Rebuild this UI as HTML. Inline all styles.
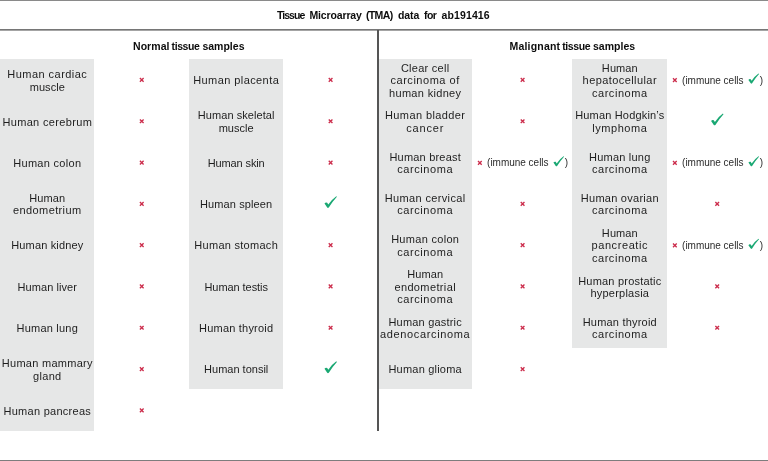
<!DOCTYPE html>
<html><head><meta charset="utf-8"><title>Tissue Microarray (TMA) data for ab191416</title>
<style>
html,body{margin:0;padding:0;background:#fff;}
body{width:768px;height:461px;position:relative;overflow:hidden;font-family:"Liberation Sans",sans-serif;color:#1e1e1e;}
.hl{position:absolute;left:0;width:768px;height:2px;background:#7d7d7d;}
.vl{position:absolute;left:377px;top:30px;width:2px;height:401px;background:#555;}
.b{position:absolute;display:flex;font-weight:bold;font-size:10.5px;line-height:14px;color:#0c0c0c;white-space:nowrap;}
.b span{flex:none;display:block;}
.g{position:absolute;background:#e6e7e7;}
.c,.b,.im{filter:grayscale(1);}
.c{position:absolute;display:flex;align-items:center;justify-content:center;text-align:center;font-size:11.0px;line-height:12.5px;white-space:nowrap;width:120px;margin-left:-60px;}
.ov{position:absolute;left:0;top:0;width:768px;height:461px;}
.x{stroke:#cc2d4c;stroke-width:1.35;fill:none;stroke-linecap:butt;}
.ck{fill:#1aa873;}
.im{position:absolute;font-size:10px;line-height:12px;white-space:nowrap;color:#2c2c2c;}
</style></head><body>
<div class="hl" style="top:0;height:1px;background:#8a8a8a"></div>
<div class="hl" style="top:29px;height:1px;background:#767676"></div>
<div class="hl" style="top:30px;height:1px;background:#a4a4a4"></div>
<div class="hl" style="top:459.5px"></div>

<div class="b" style="left:276.9px;top:8.3px"><span style="width:32.5px;letter-spacing:-0.93px">Tissue</span> <span style="width:56.6px;letter-spacing:-0.13px">Microarray</span> <span style="width:31.9px;letter-spacing:-0.64px">(TMA)</span> <span style="width:26.2px;letter-spacing:-0.03px">data</span> <span style="width:17.5px;letter-spacing:-0.6px">for</span> <span style="width:51.5px;letter-spacing:0.11px">ab191416</span></div>
<div class="b" style="left:133.0px;top:38.9px"><span style="width:38.6px;letter-spacing:0.06px">Normal</span> <span style="width:30.8px;letter-spacing:-0.41px">tissue</span> <span style="width:45.5px;letter-spacing:0.01px">samples</span></div>
<div class="b" style="left:509.5px;top:38.9px"><span style="width:52.7px;letter-spacing:0.2px">Malignant</span> <span style="width:30.8px;letter-spacing:-0.41px">tissue</span> <span style="width:45.5px;letter-spacing:0.01px">samples</span></div>
<div class="g" style="left:0px;top:59px;width:94.2px;height:371.7px"></div>
<div class="c" style="left:47.3px;top:59.9px;height:41.3px"><div><span style="letter-spacing:0.47px">Human cardiac</span> <br><span style="letter-spacing:0.03px">muscle</span></div></div>
<div class="c" style="left:47.3px;top:101.2px;height:41.3px"><div><span style="letter-spacing:0.34px">Human cerebrum</span></div></div>
<div class="c" style="left:47.3px;top:142.5px;height:41.3px"><div><span style="letter-spacing:0.3px">Human colon</span></div></div>
<div class="c" style="left:47.3px;top:183.8px;height:41.3px"><div><span style="letter-spacing:0.08px">Human</span> <br><span style="letter-spacing:0.38px">endometrium</span></div></div>
<div class="c" style="left:47.3px;top:225.1px;height:41.3px"><div><span style="letter-spacing:0.16px">Human kidney</span></div></div>
<div class="c" style="left:47.3px;top:266.4px;height:41.3px"><div><span style="letter-spacing:0.06px">Human liver</span></div></div>
<div class="c" style="left:47.3px;top:307.7px;height:41.3px"><div><span style="letter-spacing:0.21px">Human lung</span></div></div>
<div class="c" style="left:47.3px;top:349.0px;height:41.3px"><div><span style="letter-spacing:0.27px">Human mammary</span> <br><span style="letter-spacing:0.32px">gland</span></div></div>
<div class="c" style="left:47.3px;top:390.3px;height:41.3px"><div><span style="letter-spacing:0.27px">Human pancreas</span></div></div>
<div class="g" style="left:189px;top:59px;width:94.19999999999999px;height:330.4px"></div>
<div class="c" style="left:236.2px;top:59.9px;height:41.3px"><div><span style="letter-spacing:0.42px">Human placenta</span></div></div>
<div class="c" style="left:236.2px;top:101.2px;height:41.3px"><div><span style="letter-spacing:0.06px">Human skeletal</span> <br><span style="letter-spacing:0.03px">muscle</span></div></div>
<div class="c" style="left:236.2px;top:142.5px;height:41.3px"><div><span style="letter-spacing:-0.12px">Human skin</span></div></div>
<div class="c" style="left:236.2px;top:183.8px;height:41.3px"><div><span style="letter-spacing:0.11px">Human spleen</span></div></div>
<div class="c" style="left:236.2px;top:225.1px;height:41.3px"><div><span style="letter-spacing:0.28px">Human stomach</span></div></div>
<div class="c" style="left:236.2px;top:266.4px;height:41.3px"><div><span style="letter-spacing:-0.06px">Human testis</span></div></div>
<div class="c" style="left:236.2px;top:307.7px;height:41.3px"><div><span style="letter-spacing:0.2px">Human thyroid</span></div></div>
<div class="c" style="left:236.2px;top:349.0px;height:41.3px"><div><span style="letter-spacing:-0.0px">Human tonsil</span></div></div>
<div class="g" style="left:379px;top:59px;width:93.19999999999999px;height:330.4px"></div>
<div class="c" style="left:425.2px;top:59.9px;height:41.3px"><div><span style="letter-spacing:0.27px">Clear cell</span> <br><span style="letter-spacing:0.53px">carcinoma of</span> <br><span style="letter-spacing:0.32px">human kidney</span></div></div>
<div class="c" style="left:425.2px;top:101.2px;height:41.3px"><div><span style="letter-spacing:0.4px">Human bladder</span> <br><span style="letter-spacing:0.83px">cancer</span></div></div>
<div class="c" style="left:425.2px;top:142.5px;height:41.3px"><div><span style="letter-spacing:0.2px">Human breast</span> <br><span style="letter-spacing:0.56px">carcinoma</span></div></div>
<div class="im" style="left:487.1px;top:157.2px;letter-spacing:-0.02px">(immune cells</div>
<div class="im" style="left:564.8px;top:157.2px">)</div>
<div class="c" style="left:425.2px;top:183.8px;height:41.3px"><div><span style="letter-spacing:0.35px">Human cervical</span> <br><span style="letter-spacing:0.56px">carcinoma</span></div></div>
<div class="c" style="left:425.2px;top:225.1px;height:41.3px"><div><span style="letter-spacing:0.3px">Human colon</span> <br><span style="letter-spacing:0.56px">carcinoma</span></div></div>
<div class="c" style="left:425.2px;top:266.4px;height:41.3px"><div><span style="letter-spacing:0.08px">Human</span> <br><span style="letter-spacing:0.37px">endometrial</span> <br><span style="letter-spacing:0.56px">carcinoma</span></div></div>
<div class="c" style="left:425.2px;top:307.7px;height:41.3px"><div><span style="letter-spacing:0.19px">Human gastric</span> <br><span style="letter-spacing:0.64px">adenocarcinoma</span></div></div>
<div class="c" style="left:425.2px;top:349.0px;height:41.3px"><div><span style="letter-spacing:0.21px">Human glioma</span></div></div>
<div class="g" style="left:572.3px;top:59px;width:94.70000000000005px;height:289.1px"></div>
<div class="c" style="left:619.8px;top:59.9px;height:41.3px"><div><span style="letter-spacing:0.08px">Human</span> <br><span style="letter-spacing:0.42px">hepatocellular</span> <br><span style="letter-spacing:0.56px">carcinoma</span></div></div>
<div class="im" style="left:682.1px;top:74.6px;letter-spacing:-0.02px">(immune cells</div>
<div class="im" style="left:759.8px;top:74.6px">)</div>
<div class="c" style="left:619.8px;top:101.2px;height:41.3px"><div><span style="letter-spacing:0.17px">Human Hodgkin’s</span> <br><span style="letter-spacing:0.54px">lymphoma</span></div></div>
<div class="c" style="left:619.8px;top:142.5px;height:41.3px"><div><span style="letter-spacing:0.21px">Human lung</span> <br><span style="letter-spacing:0.56px">carcinoma</span></div></div>
<div class="im" style="left:682.1px;top:157.2px;letter-spacing:-0.02px">(immune cells</div>
<div class="im" style="left:759.8px;top:157.2px">)</div>
<div class="c" style="left:619.8px;top:183.8px;height:41.3px"><div><span style="letter-spacing:0.26px">Human ovarian</span> <br><span style="letter-spacing:0.56px">carcinoma</span></div></div>
<div class="c" style="left:619.8px;top:225.1px;height:41.3px"><div><span style="letter-spacing:0.08px">Human</span> <br><span style="letter-spacing:0.58px">pancreatic</span> <br><span style="letter-spacing:0.56px">carcinoma</span></div></div>
<div class="im" style="left:682.1px;top:239.8px;letter-spacing:-0.02px">(immune cells</div>
<div class="im" style="left:759.8px;top:239.8px">)</div>
<div class="c" style="left:619.8px;top:266.4px;height:41.3px"><div><span style="letter-spacing:0.21px">Human prostatic</span> <br><span style="letter-spacing:0.23px">hyperplasia</span></div></div>
<div class="c" style="left:619.8px;top:307.7px;height:41.3px"><div><span style="letter-spacing:0.2px">Human thyroid</span> <br><span style="letter-spacing:0.56px">carcinoma</span></div></div>
<div class="vl"></div>
<svg class="ov" viewBox="0 0 768 461"><path class="x" transform="translate(139.25 77.45)" d="M0.65 0.65L4.35 4.35M4.35 0.65L0.65 4.35"/>
<path class="x" transform="translate(139.25 118.75)" d="M0.65 0.65L4.35 4.35M4.35 0.65L0.65 4.35"/>
<path class="x" transform="translate(139.25 160.05)" d="M0.65 0.65L4.35 4.35M4.35 0.65L0.65 4.35"/>
<path class="x" transform="translate(139.25 201.35)" d="M0.65 0.65L4.35 4.35M4.35 0.65L0.65 4.35"/>
<path class="x" transform="translate(139.25 242.65)" d="M0.65 0.65L4.35 4.35M4.35 0.65L0.65 4.35"/>
<path class="x" transform="translate(139.25 283.95)" d="M0.65 0.65L4.35 4.35M4.35 0.65L0.65 4.35"/>
<path class="x" transform="translate(139.25 325.25)" d="M0.65 0.65L4.35 4.35M4.35 0.65L0.65 4.35"/>
<path class="x" transform="translate(139.25 366.55)" d="M0.65 0.65L4.35 4.35M4.35 0.65L0.65 4.35"/>
<path class="x" transform="translate(139.25 407.85)" d="M0.65 0.65L4.35 4.35M4.35 0.65L0.65 4.35"/>
<path class="x" transform="translate(328.1 77.45)" d="M0.65 0.65L4.35 4.35M4.35 0.65L0.65 4.35"/>
<path class="x" transform="translate(328.1 118.75)" d="M0.65 0.65L4.35 4.35M4.35 0.65L0.65 4.35"/>
<path class="x" transform="translate(328.1 160.05)" d="M0.65 0.65L4.35 4.35M4.35 0.65L0.65 4.35"/>
<path class="ck" transform="translate(324.3 195.85) scale(1)" d="M0.2 7.7Q1.3 6.1 2.9 6.9L4 8.7Q7.3 3.6 12 0.3L12.6 0.9Q8.3 5.6 4.5 11.7Q3.6 12.5 2.9 11.7Z"/>
<path class="x" transform="translate(328.1 242.65)" d="M0.65 0.65L4.35 4.35M4.35 0.65L0.65 4.35"/>
<path class="x" transform="translate(328.1 283.95)" d="M0.65 0.65L4.35 4.35M4.35 0.65L0.65 4.35"/>
<path class="x" transform="translate(328.1 325.25)" d="M0.65 0.65L4.35 4.35M4.35 0.65L0.65 4.35"/>
<path class="ck" transform="translate(324.3 361.05) scale(1)" d="M0.2 7.7Q1.3 6.1 2.9 6.9L4 8.7Q7.3 3.6 12 0.3L12.6 0.9Q8.3 5.6 4.5 11.7Q3.6 12.5 2.9 11.7Z"/>
<path class="x" transform="translate(520.1 77.45)" d="M0.65 0.65L4.35 4.35M4.35 0.65L0.65 4.35"/>
<path class="x" transform="translate(520.1 118.75)" d="M0.65 0.65L4.35 4.35M4.35 0.65L0.65 4.35"/>
<path class="x" transform="translate(477.35 160.3)" d="M0.65 0.65L4.35 4.35M4.35 0.65L0.65 4.35"/>
<path class="ck" transform="translate(553.25 155.95) scale(0.856)" d="M0.2 7.7Q1.3 6.1 2.9 6.9L4 8.7Q7.3 3.6 12 0.3L12.6 0.9Q8.3 5.6 4.5 11.7Q3.6 12.5 2.9 11.7Z"/>
<path class="x" transform="translate(520.1 201.35)" d="M0.65 0.65L4.35 4.35M4.35 0.65L0.65 4.35"/>
<path class="x" transform="translate(520.1 242.65)" d="M0.65 0.65L4.35 4.35M4.35 0.65L0.65 4.35"/>
<path class="x" transform="translate(520.1 283.95)" d="M0.65 0.65L4.35 4.35M4.35 0.65L0.65 4.35"/>
<path class="x" transform="translate(520.1 325.25)" d="M0.65 0.65L4.35 4.35M4.35 0.65L0.65 4.35"/>
<path class="x" transform="translate(520.1 366.55)" d="M0.65 0.65L4.35 4.35M4.35 0.65L0.65 4.35"/>
<path class="x" transform="translate(672.35 77.7)" d="M0.65 0.65L4.35 4.35M4.35 0.65L0.65 4.35"/>
<path class="ck" transform="translate(748.25 73.35) scale(0.856)" d="M0.2 7.7Q1.3 6.1 2.9 6.9L4 8.7Q7.3 3.6 12 0.3L12.6 0.9Q8.3 5.6 4.5 11.7Q3.6 12.5 2.9 11.7Z"/>
<path class="ck" transform="translate(710.9 113.25) scale(1)" d="M0.2 7.7Q1.3 6.1 2.9 6.9L4 8.7Q7.3 3.6 12 0.3L12.6 0.9Q8.3 5.6 4.5 11.7Q3.6 12.5 2.9 11.7Z"/>
<path class="x" transform="translate(672.35 160.3)" d="M0.65 0.65L4.35 4.35M4.35 0.65L0.65 4.35"/>
<path class="ck" transform="translate(748.25 155.95) scale(0.856)" d="M0.2 7.7Q1.3 6.1 2.9 6.9L4 8.7Q7.3 3.6 12 0.3L12.6 0.9Q8.3 5.6 4.5 11.7Q3.6 12.5 2.9 11.7Z"/>
<path class="x" transform="translate(714.7 201.35)" d="M0.65 0.65L4.35 4.35M4.35 0.65L0.65 4.35"/>
<path class="x" transform="translate(672.35 242.9)" d="M0.65 0.65L4.35 4.35M4.35 0.65L0.65 4.35"/>
<path class="ck" transform="translate(748.25 238.55) scale(0.856)" d="M0.2 7.7Q1.3 6.1 2.9 6.9L4 8.7Q7.3 3.6 12 0.3L12.6 0.9Q8.3 5.6 4.5 11.7Q3.6 12.5 2.9 11.7Z"/>
<path class="x" transform="translate(714.7 283.95)" d="M0.65 0.65L4.35 4.35M4.35 0.65L0.65 4.35"/>
<path class="x" transform="translate(714.7 325.25)" d="M0.65 0.65L4.35 4.35M4.35 0.65L0.65 4.35"/></svg>
</body></html>
